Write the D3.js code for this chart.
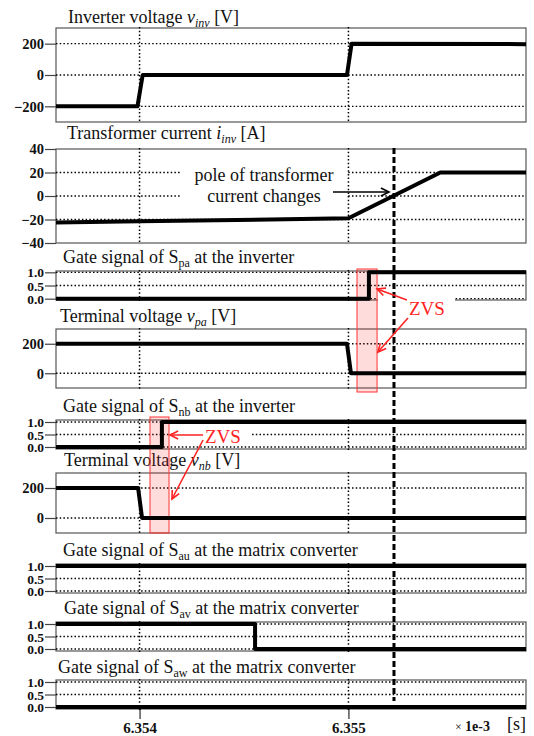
<!DOCTYPE html>
<html>
<head>
<meta charset="utf-8">
<script src="https://cdn.jsdelivr.net/npm/d3@7"></script>
<style>
body{margin:0;background:#fff;}
svg{display:block;font-family:"Liberation Serif","Times New Roman",serif;}
</style>
</head>
<body>
<svg id="chart" width="534" height="736"></svg>
<script>
// time axis in units of 1e-3 s
var timeDomain = [6.3536, 6.35585];
var timeTicks = [6.354, 6.355];
var timeTickLabels = ["6.354", "6.355"];
var poleTime = 6.355218;

// waveforms: [time, value]
var vinv = [[6.3536,-200],[6.35399,-200],[6.354015,0],[6.354993,0],[6.355015,200],[6.35585,197]];
var iinv = [[6.3536,-22.5],[6.354,-21.5],[6.355,-19],[6.35544,20],[6.35585,20]];
var gateSpa = [[6.3536,0],[6.355098,0],[6.355098,1],[6.35585,1]];
var vpa = [[6.3536,200],[6.354993,200],[6.355012,0],[6.35585,0]];
var gateSnb = [[6.3536,0],[6.354107,0],[6.354107,1],[6.35585,1]];
var vnb = [[6.3536,200],[6.353993,200],[6.354012,0],[6.35585,0]];
var gateSau = [[6.3536,1],[6.35585,1]];
var gateSav = [[6.3536,1],[6.354553,1],[6.354553,0],[6.35585,0]];
var gateSaw = [[6.3536,0],[6.35585,0]];

var voltTicks = [-200, 0, 200];
var termTicks = [0, 200];
var currTicks = [-40, -20, 0, 20, 40];
var gateTicks = [0, 0.5, 1];
var gateTickLabels = ["0.0", "0.5", "1.0"];

// ZVS windows (time)
var zvsWindows = [[6.355041, 6.355137], [6.35405, 6.354141]];

var svg = d3.select("#chart");
var x = d3.scaleLinear().domain(timeDomain).range([56, 526]);

var panels = [
  {top:28, bot:122, dom:[-300,300], ticks:voltTicks, data:vinv, tx:68, ty:23,
   title:[{t:"Inverter voltage "},{t:"v",i:1},{t:"inv",i:1,s:1},{t:" [V]"}]},
  {top:149, bot:243, dom:[-40,40], ticks:currTicks, data:iinv, tx:67, ty:139,
   title:[{t:"Transformer current "},{t:"i",i:1},{t:"inv",i:1,s:1},{t:" [A]"}]},
  {top:271, bot:300, dom:[-0.05,1.05], ticks:gateTicks, labels:gateTickLabels, data:gateSpa, tx:63, ty:263,
   title:[{t:"Gate signal of S"},{t:"pa",s:1},{t:" at the inverter"}]},
  {top:329, bot:388, dom:[-100,300], ticks:termTicks, data:vpa, tx:60, ty:322,
   title:[{t:"Terminal voltage "},{t:"v",i:1},{t:"pa",i:1,s:1},{t:" [V]"}]},
  {top:420, bot:449, dom:[-0.08,1.08], ticks:gateTicks, labels:gateTickLabels, data:gateSnb, tx:63, ty:412,
   title:[{t:"Gate signal of S"},{t:"nb",s:1},{t:" at the inverter"}]},
  {top:473, bot:533, dom:[-100,300], ticks:termTicks, data:vnb, tx:64, ty:466,
   title:[{t:"Terminal voltage "},{t:"v",i:1},{t:"nb",i:1,s:1},{t:" [V]"}]},
  {top:564, bot:593, dom:[-0.08,1.08], ticks:gateTicks, labels:gateTickLabels, data:gateSau, tx:63, ty:556,
   title:[{t:"Gate signal of S"},{t:"au",s:1},{t:" at the matrix converter"}]},
  {top:622, bot:651, dom:[-0.08,1.08], ticks:gateTicks, labels:gateTickLabels, data:gateSav, tx:64, ty:614,
   title:[{t:"Gate signal of S"},{t:"av",s:1},{t:" at the matrix converter"}]},
  {top:680, bot:709, dom:[-0.08,1.08], ticks:gateTicks, labels:gateTickLabels, data:gateSaw, tx:58, ty:673,
   title:[{t:"Gate signal of S"},{t:"aw",s:1},{t:" at the matrix converter"}]}
];

function arrow(g, x1, y1, x2, y2, color, w) {
  var a = Math.atan2(y2 - y1, x2 - x1), h = 9, s = 0.45;
  g.append("line").attr("x1", x1).attr("y1", y1).attr("x2", x2).attr("y2", y2)
    .attr("stroke", color).attr("stroke-width", w);
  var p = [[x2 - h*Math.cos(a - s), y2 - h*Math.sin(a - s)], [x2, y2], [x2 - h*Math.cos(a + s), y2 - h*Math.sin(a + s)]];
  g.append("path").attr("d", d3.line()(p)).attr("fill", "none")
    .attr("stroke", color).attr("stroke-width", w);
}

panels.forEach(function(p) {
  var y = d3.scaleLinear().domain(p.dom).range([p.bot, p.top]);
  p.y = y;
  var g = svg.append("g");

  // title
  var t = g.append("text").attr("x", p.tx).attr("y", p.ty).attr("font-size", 18).attr("fill", "#111");
  p.title.forEach(function(seg) {
    var ts = t.append("tspan").text(seg.t);
    if (seg.i) ts.attr("font-style", "italic");
    if (seg.s) ts.attr("font-size", 12).attr("dy", 4);
    else if (ts.node().previousSibling && d3.select(ts.node().previousSibling).attr("dy")) ts.attr("dy", -4);
  });

  // box
  g.append("rect").attr("x", x.range()[0]).attr("y", p.top)
    .attr("width", x.range()[1] - x.range()[0]).attr("height", p.bot - p.top)
    .attr("fill", "none").attr("stroke", "#555").attr("stroke-width", 1.2);

  // grid
  g.selectAll(".hg").data(p.ticks.filter(function(v){ return y(v) > p.top + 0.5 && y(v) < p.bot - 0.5; }))
    .enter().append("line")
    .attr("x1", x.range()[0]).attr("x2", x.range()[1])
    .attr("y1", function(v){ return y(v); }).attr("y2", function(v){ return y(v); })
    .attr("stroke", "#000").attr("stroke-width", 1.3).attr("stroke-dasharray", "1.5,2.2");
  g.selectAll(".vg").data(timeTicks).enter().append("line")
    .attr("x1", function(v){ return x(v); }).attr("x2", function(v){ return x(v); })
    .attr("y1", p.top - 1).attr("y2", p.bot + 1)
    .attr("stroke", "#000").attr("stroke-width", 1.5).attr("stroke-dasharray", "1.5,2.2");

  // y axis ticks
  var ax = d3.axisLeft(y).tickValues(p.ticks).tickSize(11).tickPadding(1)
    .tickFormat(function(v, i){ return p.labels ? p.labels[i] : d3.format("d")(v); });
  var ag = g.append("g").attr("transform", "translate(" + x.range()[0] + ",0)").call(ax);
  ag.select(".domain").remove();
  ag.selectAll("line").attr("stroke", "#444").attr("stroke-width", 1.2);
  ag.selectAll("text").attr("font-family", "Liberation Serif").attr("font-weight", "bold")
    .attr("font-size", p.labels ? 13.5 : 14.5).attr("fill", "#111").attr("dy", "0.34em");
});

// masks behind annotation texts
var P2 = panels[1];
svg.append("rect").attr("x", 181).attr("y", 160).attr("width", 166).attr("height", 47).attr("fill", "#fff");
svg.append("rect").attr("x", 172).attr("y", 428).attr("width", 80).attr("height", 14).attr("fill", "#fff");
svg.append("rect").attr("x", 378).attr("y", 296).attr("width", 77).attr("height", 21).attr("fill", "#fff");

// ZVS windows
var zvsSpan = [[panels[2].top - 2, panels[3].bot + 4], [panels[4].top - 3, panels[5].bot]];
zvsWindows.forEach(function(w, i) {
  svg.append("rect").attr("x", x(w[0])).attr("y", zvsSpan[i][0])
    .attr("width", x(w[1]) - x(w[0])).attr("height", zvsSpan[i][1] - zvsSpan[i][0])
    .attr("fill", "rgba(255,40,40,0.16)").attr("stroke", "#f33").attr("stroke-width", 1);
});

// waveforms
panels.forEach(function(p) {
  var line = d3.line().x(function(d){ return x(d[0]); }).y(function(d){ return p.y(d[1]); });
  svg.append("path").attr("d", line(p.data)).attr("fill", "none")
    .attr("stroke", "#000").attr("stroke-width", 4).attr("stroke-linejoin", "round");
});

// pole line
svg.append("line").attr("x1", x(poleTime)).attr("x2", x(poleTime))
  .attr("y1", P2.top - 1).attr("y2", 701)
  .attr("stroke", "#000").attr("stroke-width", 3).attr("stroke-dasharray", "6,3");

// pole annotation
var ann = svg.append("g");
ann.append("text").attr("x", x(6.354596)).attr("y", 181).attr("text-anchor", "middle")
  .attr("font-size", 18).attr("fill", "#111").text("pole of transformer");
ann.append("text").attr("x", x(6.354596)).attr("y", 202).attr("text-anchor", "middle")
  .attr("font-size", 18).attr("fill", "#111").text("current changes");
arrow(ann, x(6.354926), 192, x(6.355194), 192, "#000", 1.6);

// ZVS labels
var red = "#f22";
ann.append("text").attr("x", x(6.35529)).attr("y", 315).attr("font-size", 19).attr("fill", red).text("ZVS");
arrow(ann, x(6.35528), 300, x(6.355137), 289, red, 1.6);
arrow(ann, x(6.355285), 318, x(6.355141), 352, red, 1.6);
ann.append("text").attr("x", x(6.354313)).attr("y", 443).attr("font-size", 19).attr("fill", red).text("ZVS");
arrow(ann, x(6.354304), 435, x(6.354146), 435, red, 1.6);
arrow(ann, x(6.354304), 440, x(6.354155), 499, red, 1.6);

// x axis
var last = panels[panels.length - 1];
var xa = d3.axisBottom(x).tickValues(timeTicks).tickSize(10).tickPadding(3)
  .tickFormat(function(v, i){ return timeTickLabels[i]; });
var xg = svg.append("g").attr("transform", "translate(0," + last.bot + ")").call(xa);
xg.select(".domain").remove();
xg.selectAll("line").attr("stroke", "#000").attr("stroke-width", 1);
xg.selectAll("text").attr("font-family", "Liberation Serif").attr("font-weight", "bold")
  .attr("font-size", 15).attr("fill", "#111");

svg.append("text").attr("x", 455).attr("y", 731).attr("font-size", 12).attr("fill", "#111").text("\u00d7");
svg.append("text").attr("x", 465).attr("y", 731).attr("font-size", 14).attr("font-weight", "bold")
  .attr("fill", "#111").text("1e-3");
svg.append("text").attr("x", 507).attr("y", 730).attr("font-size", 18).attr("fill", "#111").text("[s]");
</script>
</body>
</html>
